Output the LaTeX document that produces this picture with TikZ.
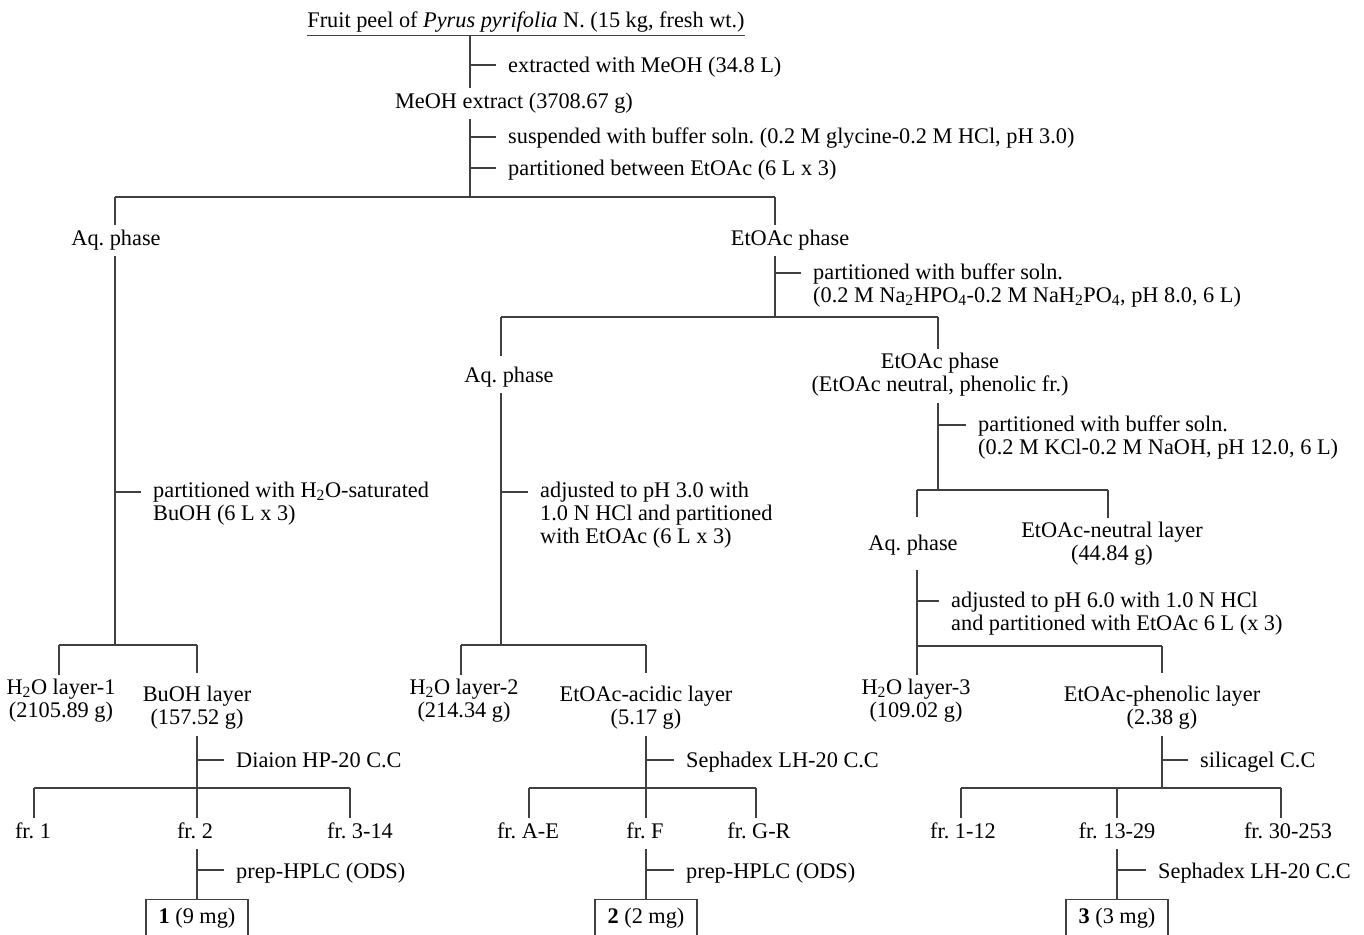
\documentclass[tikz,border=0pt]{standalone}
\usepackage{fontspec}
\setmainfont{Liberation Serif}
\newcommand{\fsz}{\fontsize{22.3}{23}\selectfont\frenchspacing}
\begin{document}
\frenchspacing
\begin{tikzpicture}[x=1pt,y=-1pt,
  ln/.style={line width=1.2pt, draw=black!75},
  txt/.style={font=\fsz, inner xsep=0pt, inner ysep=4pt, anchor=north, align=center, execute at begin node=\strut},
  lt/.style={txt, anchor=north west, align=left},
  cbox/.style={txt, draw=black!75, line width=1.2pt, inner ysep=7.9pt, minimum width=102pt}]
\useasboundingbox (0,0) rectangle (1364,934);
\clip (0,0) rectangle (1364,934);
\def\S{20.1}
% ---------------- text nodes ----------------
\node[txt] (title) at (526,27-\S) {Fruit peel of \textit{Pyrus pyrifolia} N. (15 kg, fresh wt.)};
\node[lt] (s1) at (508,72-\S) {extracted with MeOH (34.8 L)};
\node[txt] (meoh) at (514,108-\S) {MeOH extract (3708.67 g)};
\node[lt] (s2) at (508,143-\S) {suspended with buffer soln. (0.2 M glycine-0.2 M HCl, pH 3.0)};
\node[lt] (s3) at (508,175-\S) {partitioned between EtOAc (6 L x 3)};
\node[txt] (aqA) at (116,245-\S) {Aq. phase};
\node[txt] (etA) at (790,245-\S) {EtOAc phase};
\node[lt] (s4) at (813,280-\S) {partitioned with buffer soln.\\(0.2 M Na\textsubscript{2}HPO\textsubscript{4}-0.2 M NaH\textsubscript{2}PO\textsubscript{4}, pH 8.0, 6 L)};
\node[txt] (aqB) at (509,382-\S) {Aq. phase};
\node[txt] (etB) at (940,369-\S) {EtOAc phase\\(EtOAc neutral, phenolic fr.)};
\node[lt] (s5) at (153,498-\S) {partitioned with H\textsubscript{2}O-saturated\\BuOH (6 L x 3)};
\node[lt] (s6) at (540,498-\S) {adjusted to pH 3.0 with\\1.0 N HCl and partitioned\\with EtOAc (6 L x 3)};
\node[lt] (s7) at (978,432-\S) {partitioned with buffer soln.\\(0.2 M KCl-0.2 M NaOH, pH 12.0, 6 L)};
\node[txt] (aqC) at (913,550-\S) {Aq. phase};
\node[txt] (neut) at (1112,538-\S) {EtOAc-neutral layer\\(44.84 g)};
\node[lt] (s8) at (951,608-\S) {adjusted to pH 6.0 with 1.0 N HCl\\and partitioned with EtOAc 6 L (x 3)};
\node[txt] (w1) at (61,695-\S) {H\textsubscript{2}O layer-1\\(2105.89 g)};
\node[txt] (bu) at (197,702-\S) {BuOH layer\\(157.52 g)};
\node[txt] (w2) at (464,695-\S) {H\textsubscript{2}O layer-2\\(214.34 g)};
\node[txt] (acid) at (646,702-\S) {EtOAc-acidic layer\\(5.17 g)};
\node[txt] (w3) at (916,695-\S) {H\textsubscript{2}O layer-3\\(109.02 g)};
\node[txt] (phen) at (1162,702-\S) {EtOAc-phenolic layer\\(2.38 g)};
\node[lt] (s9) at (236,767-\S) {Diaion HP-20 C.C};
\node[lt] (s10) at (686,767-\S) {Sephadex LH-20 C.C};
\node[lt] (s11) at (1200,767-\S) {silicagel C.C};
\node[txt] (fa1) at (33,838-\S) {fr. 1};
\node[txt] (fa2) at (195,838-\S) {fr. 2};
\node[txt] (fa3) at (360,838-\S) {fr. 3-14};
\node[txt] (fb1) at (528,838-\S) {fr. A-E};
\node[txt] (fb2) at (645,838-\S) {fr. F};
\node[txt] (fb3) at (759,838-\S) {fr. G-R};
\node[txt] (fc1) at (963,838-\S) {fr. 1-12};
\node[txt] (fc2) at (1117,838-\S) {fr. 13-29};
\node[txt] (fc3) at (1288,838-\S) {fr. 30-253};
\node[lt] (s12) at (236,878-\S) {prep-HPLC (ODS)};
\node[lt] (s13) at (686,878-\S) {prep-HPLC (ODS)};
\node[lt] (s14) at (1158,878-\S) {Sephadex LH-20 C.C};
\node[cbox] (box1) at (197,899) {\textbf{1} (9 mg)};
\node[cbox] (box2) at (646,899) {\textbf{2} (2 mg)};
\node[cbox] (box3) at (1117,899) {\textbf{3} (3 mg)};
% ---------------- junction coordinates ----------------
\coordinate (T0) at (470,35.5);
\coordinate (B0m) at (470,197); \coordinate (B0l) at (115,197); \coordinate (B0r) at (775,197);
\coordinate (B1m) at (115,645); \coordinate (B1l) at (59,645); \coordinate (B1r) at (197,645);
\coordinate (B2m) at (775,317); \coordinate (B2l) at (501,317); \coordinate (B2r) at (938,317);
\coordinate (B3m) at (501,645); \coordinate (B3l) at (461,645); \coordinate (B3r) at (646,645);
\coordinate (B4m) at (938,490); \coordinate (B4l) at (917,490); \coordinate (B4r) at (1108,490);
\coordinate (B5l) at (917,646); \coordinate (B5r) at (1162,646);
\coordinate (C1l) at (34,788); \coordinate (C1r) at (350,788);
\coordinate (C2l) at (529,788); \coordinate (C2r) at (756,788);
\coordinate (C3m) at (1162,788); \coordinate (C3l) at (961,788); \coordinate (C3c) at (1117,788); \coordinate (C3r) at (1281,788);
\coordinate (k1) at (470,65); \coordinate (k2) at (470,137); \coordinate (k3) at (470,168);
\coordinate (k4) at (775,273); \coordinate (k5) at (115,492); \coordinate (k6) at (501,492);
\coordinate (k7) at (938,425); \coordinate (k8) at (917,601);
\coordinate (k9) at (197,760); \coordinate (k10) at (646,760); \coordinate (k11) at (1162,760);
\coordinate (k12) at (197,870); \coordinate (k13) at (646,870); \coordinate (k14) at (1117,870);
% ---------------- connectors ----------------
\draw[ln] ([yshift=2.4pt]title.south west) -- ([yshift=2.4pt]title.south east);
\draw[ln] (T0) -- (T0 |- meoh.north);
\draw[ln] (meoh.south -| T0) -- (B0m);
\draw[ln] (B0l) -- (B0r);
\draw[ln] (B0l) -- (B0l |- aqA.north);
\draw[ln] (B0r) -- (B0r |- etA.north);
\draw[ln] (aqA.south -| B0l) -- (B1m);
\draw[ln] (B1l) -- (B1r);
\draw[ln] (B1l) -- (B1l |- w1.north);
\draw[ln] (B1r) -- ([yshift=9pt]bu.north);
\draw[ln] (etA.south -| B0r) -- (B2m);
\draw[ln] (B2l) -- (B2r);
\draw[ln] (B2l) -- ([yshift=6pt]aqB.north -| B2l);
\draw[ln] (B2r) -- (B2r |- etB.north);
\draw[ln] (aqB.south -| B2l) -- (B3m);
\draw[ln] (B3l) -- (B3r);
\draw[ln] (B3l) -- (B3l |- w2.north);
\draw[ln] (B3r) -- ([yshift=9pt]acid.north);
\draw[ln] (etB.south -| B2r) -- (B4m);
\draw[ln] (B4l) -- (B4r);
\draw[ln] (B4l) -- ([yshift=13pt]aqC.north -| B4l);
\draw[ln] (B4r) -- (B4r |- neut.north);
\draw[ln] ([yshift=-9pt]aqC.south -| B4l) -- (B5l);
\draw[ln] (B5l) -- (B5r);
\draw[ln] (B5l) -- (B5l |- w3.north);
\draw[ln] (B5r) -- ([yshift=9pt]phen.north);
% lower left
\draw[ln] (bu.south) -- (bu.south |- fa2.north);
\draw[ln] (C1l) -- (C1r);
\draw[ln] (C1l) -- (C1l |- fa1.north);
\draw[ln] (C1r) -- (C1r |- fa3.north);
\draw[ln] (box1.north |- fa2.south) -- (box1.north);
% lower middle
\draw[ln] (acid.south) -- (acid.south |- fb2.north);
\draw[ln] (C2l) -- (C2r);
\draw[ln] (C2l) -- (C2l |- fb1.north);
\draw[ln] (C2r) -- (C2r |- fb3.north);
\draw[ln] (box2.north |- fb2.south) -- (box2.north);
% lower right
\draw[ln] (phen.south) -- (C3m);
\draw[ln] (C3l) -- (C3r);
\draw[ln] (C3l) -- (C3l |- fc1.north);
\draw[ln] (C3c) -- (C3c |- fc2.north);
\draw[ln] (C3r) -- (C3r |- fc3.north);
\draw[ln] (box3.north |- fc2.south) -- (box3.north);
% ticks
\draw[ln, shorten >=12pt] (k1) -- (k1 -| s1.west);
\draw[ln, shorten >=12pt] (k2) -- (k2 -| s2.west);
\draw[ln, shorten >=12pt] (k3) -- (k3 -| s3.west);
\draw[ln, shorten >=12pt] (k4) -- (k4 -| s4.west);
\draw[ln, shorten >=12pt] (k5) -- (k5 -| s5.west);
\draw[ln, shorten >=12pt] (k6) -- (k6 -| s6.west);
\draw[ln, shorten >=12pt] (k7) -- (k7 -| s7.west);
\draw[ln, shorten >=12pt] (k8) -- (k8 -| s8.west);
\draw[ln, shorten >=12pt] (k9) -- (k9 -| s9.west);
\draw[ln, shorten >=12pt] (k10) -- (k10 -| s10.west);
\draw[ln, shorten >=12pt] (k11) -- (k11 -| s11.west);
\draw[ln, shorten >=12pt] (k12) -- (k12 -| s12.west);
\draw[ln, shorten >=12pt] (k13) -- (k13 -| s13.west);
\draw[ln, shorten >=12pt] (k14) -- (k14 -| s14.west);
\end{tikzpicture}
\end{document}
